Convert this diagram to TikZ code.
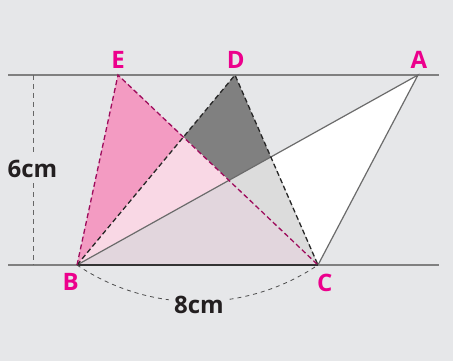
\documentclass[tikz,border=0pt]{standalone}
\usepackage{fontspec}
\setmainfont{Open Sans}
\definecolor{bg}{HTML}{E6E7E9}
\definecolor{mag}{HTML}{EC008C}
\definecolor{magline}{HTML}{9E0B5C}
\definecolor{medpink}{HTML}{F39BC2}
\definecolor{lightpink}{HTML}{F9D8E5}
\definecolor{darkg}{HTML}{808080}
\definecolor{lightg}{HTML}{DCDCDC}
\definecolor{triple}{HTML}{E2D6DD}
\definecolor{txt}{HTML}{231F20}
\begin{document}
\begin{tikzpicture}[x=1pt,y=-1pt,
  ptlabel/.style={text=mag,font=\fontsize{24}{24}\selectfont\bfseries,anchor=base,inner sep=0pt},
  measure/.style={text=txt,font=\fontsize{24}{24}\selectfont\bfseries,anchor=base,fill=bg,inner xsep=5pt,inner ysep=4pt},
  guide/.style={draw=black!50,line width=1.2pt},
  side/.style={draw=black!58,line width=1.2pt},
  base/.style={draw=black!80,line width=2pt},
  blackdash/.style={draw=black!85,line width=1.3pt,dash pattern=on 5pt off 3pt},
  pinkdash/.style={draw=magline,line width=1.3pt,dash pattern=on 5pt off 3pt},
  thindash/.style={draw=black!70,line width=0.8pt,dash pattern=on 4pt off 4pt}]
\useasboundingbox (0,0) rectangle (453,361);
\fill[bg] (0,0) rectangle (453,361);
\coordinate (A) at (418,75);
\coordinate (B) at (77,265);
\coordinate (C) at (318,265);
\coordinate (D) at (235,75);
\coordinate (E) at (118,75);
\coordinate (TL) at (8,75);
\coordinate (TR) at (439,75);
\coordinate (BL) at (8,265);
\coordinate (BR) at (439,265);
\coordinate (HT) at (33,75);
\coordinate (HB) at (33,265);
% fills
\fill[white] (A) -- (B) -- (C) -- cycle;
\fill[darkg] (D) -- (B) -- (C) -- cycle;
\fill[medpink] (E) -- (B) -- (C) -- cycle;
\begin{scope}
  \clip (D) -- (B) -- (C) -- cycle;
  \fill[lightpink] (E) -- (B) -- (C) -- cycle;
\end{scope}
\begin{scope}
  \clip (A) -- (B) -- (C) -- cycle;
  \fill[lightg] (D) -- (B) -- (C) -- cycle;
  \fill[triple] (E) -- (B) -- (C) -- cycle;
\end{scope}
% lines
\draw[guide] (TL) -- (TR);
\draw[guide] (BL) -- (BR);
\draw[thindash,draw=black!60,line width=1pt,dash pattern=on 5pt off 4pt] (HT) -- (HB);
\draw[side] (B) -- (A) -- (C);
\draw[base] (B) -- (C);
\draw[blackdash] (B) -- (D) -- (C);
\draw[pinkdash] (B) -- (E) -- (C);
\draw[thindash] (B) .. controls (149.5,313.9) and (245.5,313.9) .. (C);
% labels
\node[measure] (l6) at (32.5,177) {6cm};
\node[measure] (l8) at (199,313) {8cm};
\node[ptlabel] (lA) at (418.8,68.3) {A};
\node[ptlabel] (lD) at (235.7,68.3) {D};
\node[ptlabel] (lE) at (118,68.3) {E};
\node[ptlabel] (lB) at (70.8,290) {B};
\node[ptlabel] (lC) at (324.7,291.5) {C};
\end{tikzpicture}
\end{document}
